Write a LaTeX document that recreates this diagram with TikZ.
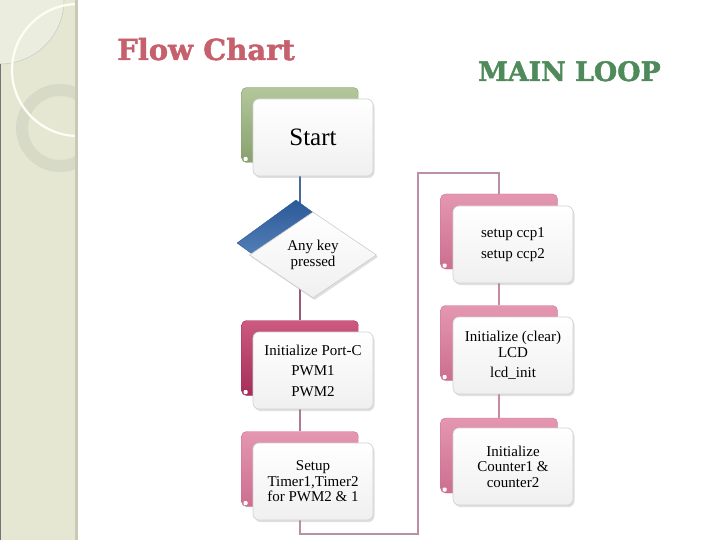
\documentclass[tikz,border=0pt]{standalone}
\usepackage{fontspec}
\setmainfont{Liberation Serif}
\newfontfamily\titlefont[FakeBold=1.6]{DejaVu Serif Bold}
\usetikzlibrary{shapes.geometric,shadows,backgrounds}
\definecolor{sidebg}{HTML}{E5E7D3}
\definecolor{sideedge}{HTML}{C8CAB6}
\definecolor{ringcol}{HTML}{D8DAC8}
\definecolor{titlered}{HTML}{C6606C}
\definecolor{titlegreen}{HTML}{4F8A5A}
\definecolor{blueline}{HTML}{4A6A9A}
\definecolor{mauveline}{HTML}{9A5A7A}
\definecolor{loopline}{HTML}{BC90A4}
\definecolor{pinkline}{HTML}{C88AA2}
\definecolor{greentop}{HTML}{B4C79C}
\definecolor{greenbot}{HTML}{88A06E}
\definecolor{crimtop}{HTML}{CC5A80}
\definecolor{crimbot}{HTML}{A42E58}
\definecolor{pinktop}{HTML}{E497B0}
\definecolor{pinkbot}{HTML}{CC6E90}
\definecolor{bluetop}{HTML}{2C5A98}
\definecolor{bluebot}{HTML}{6A94C8}
\tikzset{
  frontbox/.style={rounded corners=6pt, draw=black!18, line width=0.6pt,
    top color=white, bottom color=black!6, minimum width=120pt, minimum height=77pt,
    inner sep=2pt, align=center, font=\fontsize{15}{15.5}\selectfont,
    drop shadow={shadow xshift=1.5pt, shadow yshift=-2pt, opacity=0.25}},
  backbox/.style={rounded corners=5pt, draw=#1, line width=0.4pt,
    minimum width=117pt, minimum height=75pt, inner sep=0pt},
  greenbox/.style={backbox=greenbot, top color=greentop, bottom color=greenbot},
  crimbox/.style={backbox=crimbot, top color=crimtop, bottom color=crimbot},
  pinkbox/.style={backbox=pinkbot, top color=pinktop, bottom color=pinkbot},
  conn/.style={line width=1.4pt},
  notch/.style={fill=white, rounded corners=1pt}
}
\begin{document}
\begin{tikzpicture}[x=1pt,y=-1pt]
\useasboundingbox (0,0) rectangle (720,540);
% sidebar
\fill[sidebg] (0,0) rectangle (78,540);
\begin{scope}
  \clip (0,0) rectangle (75,540);
  \fill[white,opacity=0.25] (0,0) circle (64pt);
  \draw[black!22,line width=0.5pt] (0,0) circle (64pt);
  \draw[ringcol,line width=12pt] (60,128) circle (38pt);
  \draw[white!96!yellow,line width=2.2pt] (78,70) circle (66pt);
\end{scope}
\fill[sideedge] (75,0) rectangle (78,540);
\draw[black!55,line width=1.2pt] (0.6,64) -- (0.6,540);
% titles
\node[anchor=base west,inner sep=0,text=titlered,font=\titlefont\fontsize{29}{32}\selectfont] (t1) at (117,60) {Flow Chart};
\node[anchor=base west,inner sep=0,text=titlegreen,font=\titlefont\fontsize{26.8}{30}\selectfont] (t2) at (478,81) {MAIN LOOP};
% left column back shapes
\node[greenbox] (startB) at (300,125) {};
\fill[notch] (243.5,157) rectangle (247.5,161);
\node[diamond, minimum width=118pt, minimum height=86pt, inner sep=0pt,
  top color=bluetop, bottom color=bluebot, draw=bluetop] (dmdB) at (296,243) {};
\node[crimbox] (initB) at (300,358) {};
\fill[notch] (243.5,390) rectangle (247.5,394);
\node[pinkbox] (setupB) at (300,469) {};
\fill[notch] (243.5,501) rectangle (247.5,505);
% right column back shapes
\node[pinkbox] (ccpB) at (499,231.5) {};
\fill[notch] (442.5,263.5) rectangle (446.5,267.5);
\node[pinkbox] (lcdB) at (499,343) {};
\fill[notch] (442.5,375) rectangle (446.5,379);
\node[pinkbox] (cntB) at (499,455.5) {};
\fill[notch] (442.5,487.5) rectangle (446.5,491.5);
% corner points of the loop
\coordinate (c1) at (418,534);
\coordinate (c2) at (418,173);
% connectors
\begin{scope}[on background layer]
  \draw[conn,blueline] (startB) -- (startB |- dmdB);
  \draw[conn,mauveline] (startB |- dmdB) -- (initB);
  \draw[conn,mauveline!80] (initB) -- (setupB);
  \draw[conn,loopline] (setupB) |- (c1) -- (c2) -| (ccpB);
  \draw[conn,pinkline] (ccpB) -- (lcdB);
  \draw[conn,pinkline] (lcdB) -- (cntB);
\end{scope}
% front shapes
\node[frontbox, font=\fontsize{25}{26}\selectfont] (startF) at (313,137.5) {Start};
\node[diamond, minimum width=127pt, minimum height=86pt, inner sep=0pt, align=center,
  draw=black!20, line width=0.6pt, top color=white, bottom color=black!6,
  font=\fontsize{15}{15.5}\selectfont,
  drop shadow={shadow xshift=1.5pt, shadow yshift=-2pt, opacity=0.25}] (dmdF) at (313,255) {Any key\\pressed};
\node[frontbox] (initF) at (313,370.5) {Initialize Port-C\\[5pt]PWM1\\[5pt]PWM2};
\node[frontbox] (setupF) at (313,481.5) {Setup\\Timer1,Timer2\\for PWM2 \& 1};
\node[frontbox] (ccpF) at (513,244.5) {setup ccp1\\[5pt]setup ccp2};
\node[frontbox] (lcdF) at (513,355.5) {Initialize (clear)\\LCD\\[5pt]lcd\_init};
\node[frontbox] (cntF) at (513,466.5) {Initialize\\Counter1 \&\\counter2};
\end{tikzpicture}
\end{document}
